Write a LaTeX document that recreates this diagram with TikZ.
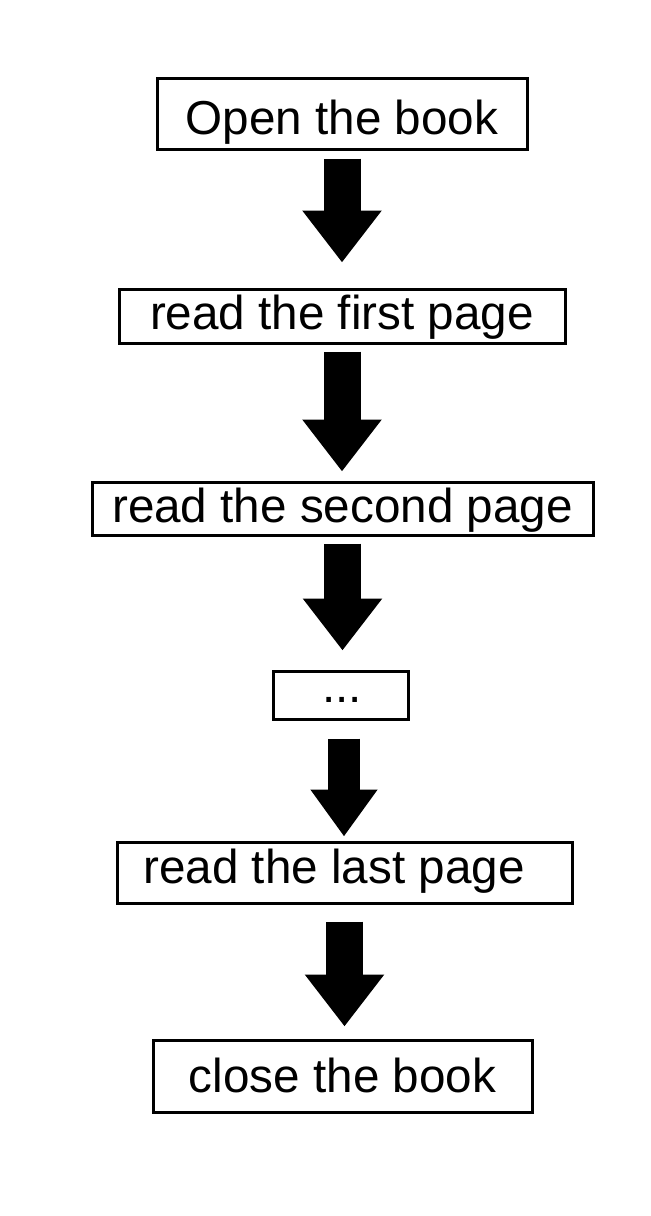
\documentclass[tikz,border=0pt]{standalone}
\usepackage{fontspec}
\setmainfont{Liberation Sans}
\usetikzlibrary{arrows.meta}

\begin{document}
\begin{tikzpicture}[
		stepbox/.style={draw, rectangle, line width=0.06cm, inner sep=0pt, font=\fontsize{27.1pt}{32pt}\selectfont},
		lift/.style={text height=#1, text depth=0pt},
		blockarr/.style={line width=0.74cm, -{Triangle[length=1.04cm, width=1.52cm]}},
		smallarr/.style={line width=0.64cm, -{Triangle[length=0.94cm, width=1.28cm]}}
	]
				\fill[white] (0, 0) rectangle (13.02, -24.32);
				\node[stepbox, lift=0.82cm, minimum width=7.4cm, minimum height=1.42cm] (open)at(6.84, -2.27) {Open the book};
				\node[stepbox, lift=0.52cm, minimum width=8.92cm, minimum height=1.08cm] (first)at(6.84, -6.32) {read the first page};
				\node[stepbox, lift=0.54cm, minimum width=10.02cm, minimum height=1.06cm] (second)at(6.85, -10.17) {read the second page};
				\node[stepbox, lift=0.3cm, minimum width=2.7cm, minimum height=0.96cm] (dots)at(6.81, -13.9) {\hspace*{0.06cm}...};
				\node[stepbox, lift=0.42cm, minimum width=9.1cm, minimum height=1.22cm] (last)at(6.89, -17.45) {\hspace*{-0.42cm}read the last page};
				\node[stepbox, lift=0.64cm, minimum width=7.58cm, minimum height=1.44cm] (close)at(6.85, -21.52) {close the book};
				\draw[blockarr, shorten <=0.16cm, shorten >=0.5cm] (open.south) -- (open.south |- first.north);
				\draw[blockarr, shorten <=0.14cm, shorten >=0.18cm] (first.south) -- (first.south |- second.north);
				\draw[blockarr, shorten <=0.14cm, shorten >=0.38cm] (second.south) -- (second.south |- dots.north);
				\draw[smallarr, shorten <=0.36cm, shorten >=0.08cm] (dots.south) ++(0.07, 0) coordinate (d) -- (d |- last.north);
				\draw[blockarr, shorten <=0.34cm, shorten >=0.24cm] (last.south) -- (last.south |- close.north);
			\end{tikzpicture}
\end{document}
